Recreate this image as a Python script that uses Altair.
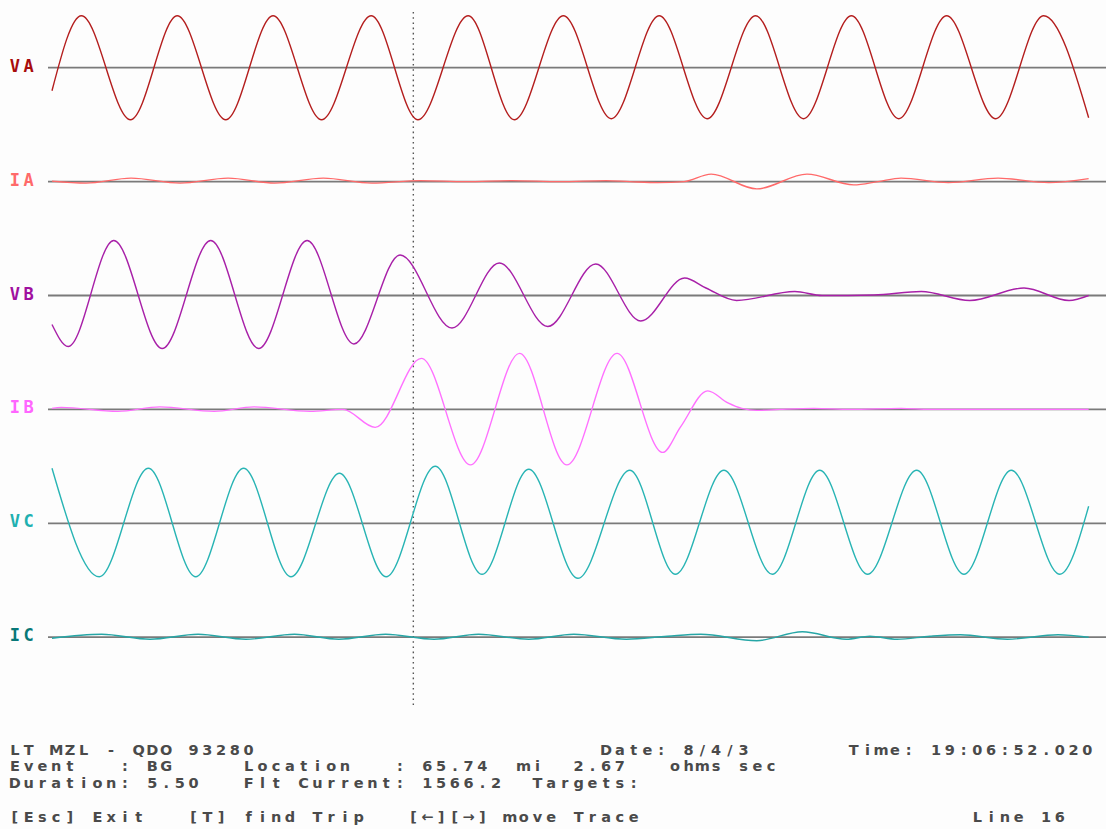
import altair as alt
import pandas as pd

# Turning points of each trace: time in ms from the start of the record,
# amplitude in screen units (positive = up). Curves are drawn through them.
VA_T = [0, 5.1, 13.6, 21.7, 30.1, 38.3, 46.7, 55.3, 63.4, 72.1, 80.1, 88.6, 96.9,
        105.2, 113.5, 121.9, 130.2, 138.5, 146.7, 155.0, 163.5, 171.8, 179.6]
VA_V = [-23, 52, -52, 52, -52, 52, -52, 52, -52, 52, -52, 52, -51,
        52, -51, 52, -51, 52, -51, 52, -51, 52, -50]

IA_T = [0, 5.9, 13.7, 22.2, 30.5, 38.6, 47.0, 55.4, 63.8, 71.7, 79.7, 88.0, 96.0,
        100.1, 105.0, 109.5, 114.2, 122.1, 130.8, 138.9, 143.1, 147.1, 155.3, 163.9, 172.7, 179.6]
IA_V = [0.5, -1.5, 3.5, -1.5, 3.5, -1.5, 3.5, -1.5, 1, 0, 1, 0, 1,
        0, -1, 0, 7.5, -7.3, 7.5, -3.3, 0, 3.5, -1, 3.5, -1, 3]

VB_T = [0, 2.8, 10.7, 19.1, 27.5, 35.8, 44.2, 52.3, 60.3, 69.3, 77.5, 85.9, 94.2,
        102.0, 109.6, 113.3, 118.6, 128.7, 133.4, 142.4, 150.6, 159.0, 168.4, 176.2, 179.6]
VB_V = [-29, -51, 55, -53, 55, -53, 55, -48.5, 40.5, -32.5, 32.5, -31, 31.5,
        -25.5, 17.5, 7.5, -5, 4, 0, 0.5, 4, -5, 7.5, -5, 0]

IB_T = [0, 1.6, 11.4, 18.7, 28.1, 35.0, 44.7, 50.4, 56.0, 64.0, 72.5, 81.0, 89.2,
        97.9, 105.8, 108.9, 113.6, 117.1, 119.5, 122.1, 126.1, 132.0, 138.3, 147.1, 152.1, 179.6]
IB_V = [1, 2, -2, 2.5, -2, 2.5, -2, 0, -18, 51, -55.5, 56, -55.5,
        56, -43, -17.5, 18.5, 6.5, 1, -1, 0, 1, 0, 1, 0, 0]

VC_T = [0, 8.2, 16.7, 24.9, 33.2, 41.4, 49.8, 57.9, 66.4, 74.5, 82.6, 91.1, 100.1,
        108.0, 116.4, 124.8, 133.0, 141.3, 149.8, 158.0, 166.2, 174.6, 179.6]
VC_V = [55, -53.5, 55, -53.5, 55, -53.5, 50, -53.5, 57, -51, 54, -55, 53,
        -51, 53, -51, 53, -51, 53, -51, 53, -51, 17]

IC_T = [0, 8.6, 17.0, 25.3, 33.6, 42.0, 49.7, 57.8, 66.2, 73.9, 82.6, 90.4, 99.5,
        106.6, 112.4, 122.1, 130.0, 137.6, 141.7, 146.4, 152.1, 157.4, 165.5, 174.3, 179.6]
IC_V = [-1, 3, -2, 3, -2, 3, -2, 3, -2, 3, -2, 3, -2,
        1, 3, -3.5, 5.5, -2, 1, -2, 1, 2.5, -2, 2.5, 0]

CHANNELS = ["VA", "IA", "VB", "IB", "VC", "IC"]
SERIES = [(VA_T, VA_V), (IA_T, IA_V), (VB_T, VB_V), (IB_T, IB_V), (VC_T, VC_V), (IC_T, IC_V)]
TRACE_COLORS = ["#b41e1e", "#ff6a6a", "#a820a8", "#ff70ff", "#28b4b4", "#26a6a6"]
LABEL_COLORS = ["#a80c0c", "#ff6a6a", "#a010a0", "#ff66ff", "#20b0b0", "#087878"]

CURSOR_MS = 62.6

# console lines: (row, starting column, text)
CONSOLE = [
    (0, 0, "LT MZL - QDO 93280"),
    (0, 43, "Date: 8/4/3"),
    (0, 61, "Time: 19:06:52.020"),
    (1, 0, "Event   : BG     Location   : 65.74  mi  2.67   ohms sec"),
    (2, 0, "Duration: 5.50   Flt Current: 1566.2  Targets:"),
    (4, 0, "[Esc] Exit"),
    (4, 13, "[T] find Trip"),
    (4, 29, "[\u2190][\u2192] move Trace"),
    (4, 70, "Line 16"),
]

# ---- layout -------------------------------------------------------------
W, H = 1106, 829
ROW_GAP = 113.9          # screen units between trace zero lines
TOP_ZERO = 67.7          # first zero line, pixels from the top
PX_PER_MS = 5.772
T0_PX = 52
X_DOMAIN = [-T0_PX / PX_PER_MS, (W - T0_PX) / PX_PER_MS]
Y_DOMAIN = [TOP_ZERO - H, TOP_ZERO]
CELL_W, CELL_X0 = 13.75, 8
CONSOLE_Y0, CONSOLE_DY = 750.7, 16.7

xs = alt.Scale(domain=X_DOMAIN, nice=False, zero=False)
ys = alt.Scale(domain=Y_DOMAIN, nice=False, zero=False)
px_x = alt.Scale(domain=[0, W], nice=False, zero=False)
px_y = alt.Scale(domain=[H, 0], nice=False, zero=False)

trace_rows = []
for k, (name, (ts, vs)) in enumerate(zip(CHANNELS, SERIES)):
    for t, v in zip(ts, vs):
        trace_rows.append({"ch": name, "t": t, "y": v - k * ROW_GAP})
traces_df = pd.DataFrame(trace_rows)

base_df = pd.DataFrame({
    "ch": CHANNELS,
    "y": [-k * ROW_GAP for k in range(len(CHANNELS))],
    "t0": [-4 / PX_PER_MS] * len(CHANNELS),
    "t1": [X_DOMAIN[1]] * len(CHANNELS),
})

cursor_df = pd.DataFrame({"t": [CURSOR_MS]})


def grid_chars(row_y, col, text):
    out = []
    for i, c in enumerate(text):
        if c != " ":
            out.append({"px": CELL_X0 + CELL_W * (col + i) + CELL_W / 2, "py": row_y, "c": c})
    return out


label_rows = []
for k, name in enumerate(CHANNELS):
    for r in grid_chars(TOP_ZERO + k * ROW_GAP - 1, 0, name):
        r["ch"] = name
        label_rows.append(r)
labels_df = pd.DataFrame(label_rows)

console_rows = []
for row, col, text in CONSOLE:
    console_rows += grid_chars(CONSOLE_Y0 + CONSOLE_DY * row, col, text)
console_df = pd.DataFrame(console_rows)

color = alt.Color("ch:N", scale=alt.Scale(domain=CHANNELS, range=TRACE_COLORS), legend=None)

baselines = alt.Chart(base_df).mark_rule(color="#7a7a7a", strokeWidth=1.8).encode(
    x=alt.X("t0:Q", scale=xs, axis=None),
    x2="t1:Q",
    y=alt.Y("y:Q", scale=ys, axis=None),
)

cursor = alt.Chart(cursor_df).mark_rule(
    color="#555555", strokeWidth=1.4, strokeDash=[1.6, 3.6]
).encode(
    x=alt.X("t:Q", scale=xs, axis=None),
    y=alt.value(12),
    y2=alt.value(705),
)

lines = alt.Chart(traces_df).mark_line(
    interpolate="monotone", strokeWidth=1.4
).encode(
    x=alt.X("t:Q", scale=xs, axis=None),
    y=alt.Y("y:Q", scale=ys, axis=None),
    color=color,
    detail="ch:N",
    order="t:Q",
)

labels = alt.Chart(labels_df).mark_text(
    font="DejaVu Sans Mono", fontWeight="bold", fontSize=17, align="center", baseline="middle"
).encode(
    x=alt.X("px:Q", scale=px_x, axis=None),
    y=alt.Y("py:Q", scale=px_y, axis=None),
    text="c:N",
    color=alt.Color("ch:N", scale=alt.Scale(domain=CHANNELS, range=LABEL_COLORS), legend=None),
)

console = alt.Chart(console_df).mark_text(
    font="DejaVu Sans", fontWeight="bold", fontSize=14.5, align="center",
    baseline="middle", color="#4a4a4a"
).encode(
    x=alt.X("px:Q", scale=px_x, axis=None),
    y=alt.Y("py:Q", scale=px_y, axis=None),
    text="c:N",
)

chart = alt.layer(baselines, cursor, lines, labels, console).resolve_scale(
    x="independent", y="independent", color="independent"
).properties(
    width=W, height=H, padding=0, autosize="none", background="#fdfdfd"
).configure_view(stroke=None)

chart.save("out.html", embed_options={"renderer": "svg", "actions": False})
